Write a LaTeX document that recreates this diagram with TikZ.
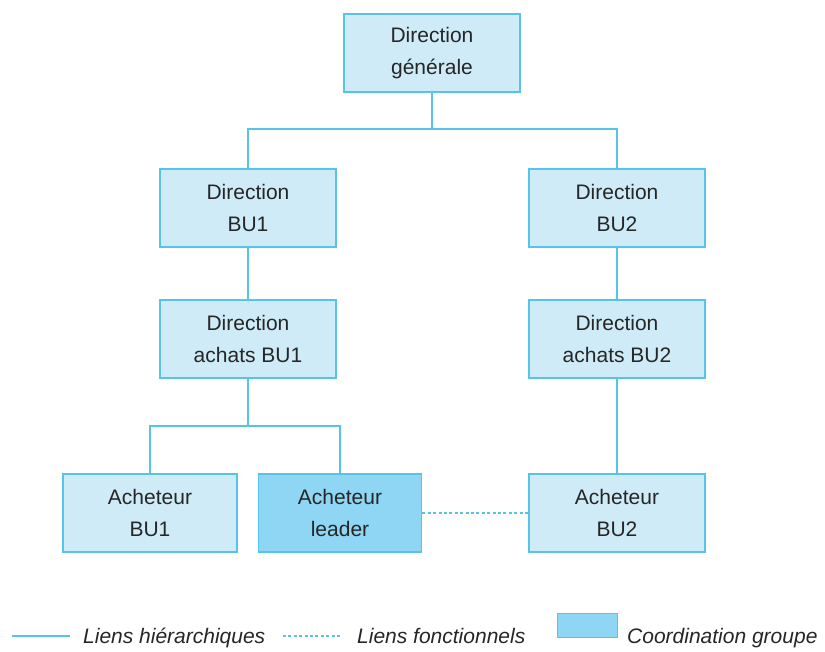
\documentclass[tikz,border=0pt]{standalone}
\usepackage{fontspec}
\setmainfont{Liberation Sans}
\usepackage{xcolor}
\usetikzlibrary{positioning,calc}

\definecolor{linkblue}{HTML}{55C3EA}
\definecolor{boxfill}{HTML}{CFEBF8}
\definecolor{leaderfill}{HTML}{8ED6F4}
\definecolor{textgray}{HTML}{262626}

\begin{document}
\begin{tikzpicture}[x=1pt, y=1pt,
    unit/.style={rectangle, draw=linkblue, fill=boxfill, line width=1.6pt, minimum width=176pt, minimum height=78pt, align=center, text=textgray, font=\fontsize{21}{32}\selectfont},
    leaderunit/.style={unit, fill=leaderfill, minimum width=163pt},
    hier/.style={draw=linkblue, line width=1.8pt},
    func/.style={draw=linkblue, line width=1.8pt, dash pattern=on 3pt off 2.4pt},
    legendtext/.style={anchor=base west, inner sep=0pt, text=textgray, font=\fontsize{21}{25}\selectfont\itshape}
]
\useasboundingbox (0,0) rectangle (825,-651);

% Units
\node[unit] (dg) at (432,-53) {Direction\\générale};

\node[unit] (dbu1) at (248,-208) {Direction\\BU1};
\node[unit] (dbu2) at (617,-208) {Direction\\BU2};

\node[unit] (dabu1) at (248,-339) {Direction\\achats BU1};
\node[unit] (dabu2) at (617,-339) {Direction\\achats BU2};

\node[unit, minimum width=174pt] (abu1) at (150,-513) {Acheteur\\BU1};
\node[leaderunit] (leader) at (340,-513) {Acheteur\\leader};
\node[unit] (abu2) at (617,-513) {Acheteur\\BU2};

% Hierarchical links
\draw[hier] (dg.south) -- ++(0,-36) -| (dbu1.north);
\draw[hier] (dg.south) -- ++(0,-36) -| (dbu2.north);
\draw[hier] (dbu1) -- (dabu1);
\draw[hier] (dbu2) -- (dabu2);
\draw[hier] (dabu1.south) -- ++(0,-47) -| (abu1.north);
\draw[hier] (dabu1.south) -- ++(0,-47) -| (leader.north);
\draw[hier] (dabu2) -- (abu2);

% Functional link
\draw[func] (leader) -- (abu2);

% Legend
\coordinate (hstart) at (12,-636);
\coordinate (hend) at (70,-636);
\draw[hier] (hstart) -- (hend);
\node[legendtext] (hlabel) at (83,-643) {Liens hiérarchiques};

\coordinate (fstart) at (283,-636);
\coordinate (fend) at (340,-636);
\draw[func] (fstart) -- (fend);
\node[legendtext] (flabel) at (357,-643) {Liens fonctionnels};

\node[rectangle, draw=linkblue, fill=leaderfill, line width=0.8pt, minimum width=60pt, minimum height=24pt, inner sep=0pt] (cbox) at (587,-625) {};
\node[legendtext] (clabel) at (627,-643) {Coordination groupe};

\end{tikzpicture}
\end{document}
